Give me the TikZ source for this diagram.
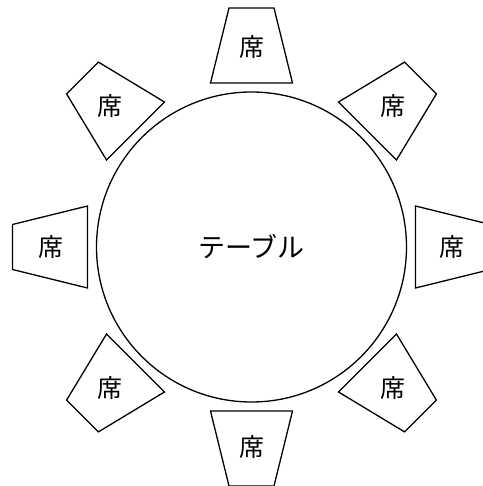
\documentclass[tikz,border=0pt]{standalone}
\usepackage{fontspec}
\newfontfamily\jp{Noto Sans CJK JP}
\begin{document}
\begin{tikzpicture}[x=1pt,y=1pt,
  seatbox/.style={draw=black,line width=1.3pt,line join=miter},
  seatlabel/.style={font=\jp\fontsize{25}{25}\selectfont,inner sep=0pt},
  tablebox/.style={draw=black,line width=1.3pt,circle,minimum size=310pt,inner sep=0pt,font=\jp\fontsize{27}{27}\selectfont}]
\useasboundingbox (-251.5,-239) rectangle (230.5,247);
\node[tablebox] (table) at (0,0) {テーブル};
\foreach \a [count=\i] in {90,45,0,-45,-90,-135,180,135}{
  \draw[seatbox,rotate=\a-90] (-41,164) -- (41,164) -- (22.5,239) -- (-22.5,239) -- cycle;
  \node[seatlabel] (seat\i) at (\a:200) {席};
}
\end{tikzpicture}
\end{document}
